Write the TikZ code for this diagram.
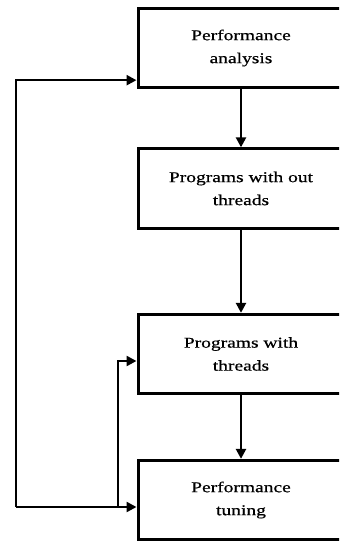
\documentclass[tikz,border=0pt]{standalone}
\usepackage{fontspec}
\setmainfont{Liberation Serif}[FakeStretch=1.3,FakeBold=0.6]
\usetikzlibrary{arrows.meta}
\begin{document}
\begin{tikzpicture}[x=0.75pt,y=-0.75pt,
  box/.style={draw,line width=2.25pt,minimum width=154.5pt,minimum height=59.5pt,align=center,inner sep=0pt,font=\fontsize{11.25}{17.25}\selectfont},
  link/.style={line width=1.8pt,-{Triangle[length=7.5pt,width=7.5pt]}}]
\clip(0,0) rectangle (339,541);
\node[box](ana) at (241,48){Performance\\analysis};
\node[box](pro) at (241,188.5){Programs with out\\threads};
\node[box](thr) at (241,354){Programs with\\threads};
\node[box](tun) at (241,500){Performance\\tuning};
\draw[link](ana)--(pro);
\draw[link](pro)--(thr);
\draw[link](thr)--(tun);
% feedback lines on the left
\coordinate(loopL) at (16,507);
\coordinate(loopR) at (118,507);
\draw[link](loopL)|-([yshift=6.75pt]ana.south west);
\draw[link](loopL)--(tun.west|-loopL);
\draw[link](loopR)|-([yshift=-5.25pt]thr.west);
\end{tikzpicture}
\end{document}
